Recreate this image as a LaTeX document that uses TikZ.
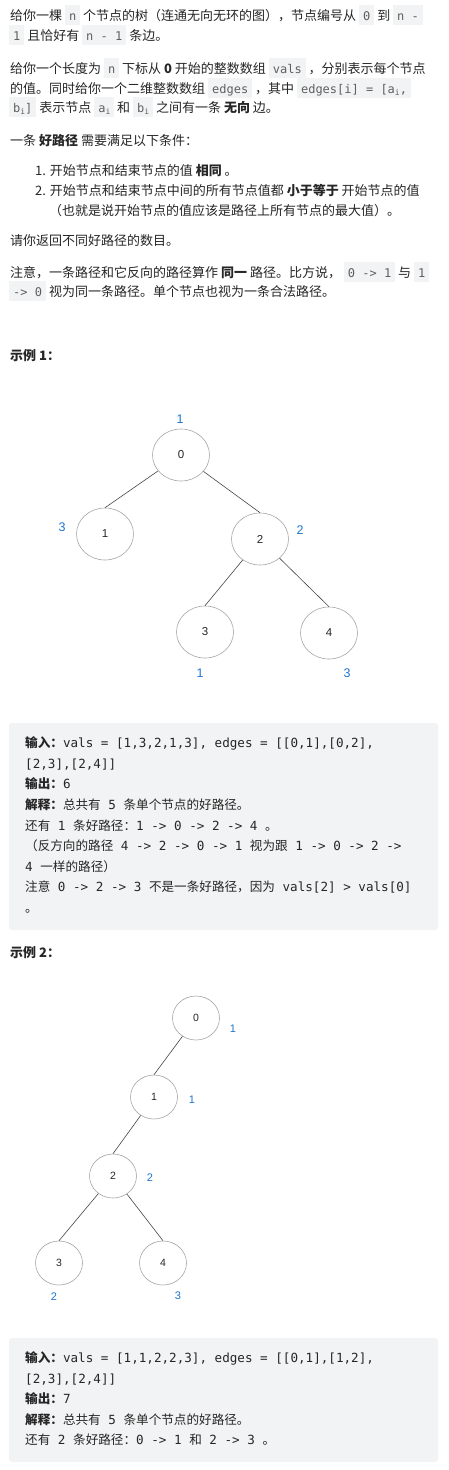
\documentclass[tikz,border=0pt]{standalone}
\usepackage{fontspec}
\setmainfont{Noto Sans CJK SC}
\newfontfamily\zhfont{Noto Sans CJK SC}
\newfontfamily\monofont{DejaVu Sans Mono}
\newfontfamily\arialfont{Liberation Sans}
\usepackage{xcolor}
\usetikzlibrary{shapes.geometric}

\definecolor{ink}{RGB}{38,38,38}
\definecolor{codebg}{RGB}{242,243,244}
\definecolor{codefg}{RGB}{95,95,95}
\definecolor{valblue}{RGB}{28,118,206}
\definecolor{ringgray}{RGB}{165,165,165}
\definecolor{edgegray}{RGB}{70,70,70}

% inline code with grey box, subscript index, cjk inside code lines
\newcommand{\code}[1]{{\fboxsep=0pt\colorbox{codebg}{\rule[-5pt]{0pt}{20pt}\hspace{4pt}{\monofont\fontsize{12}{12}\selectfont\color{codefg}#1}\hspace{4pt}}}}
\newcommand{\idx}[1]{\raisebox{-2.5pt}{\fontsize{8}{8}\selectfont #1}}
\newcommand{\zh}[1]{{\zhfont #1}}
\newcommand{\zhb}[1]{{\zhfont\bfseries #1}}

\begin{document}
\begin{tikzpicture}[x=1pt, y=-1pt,
  txt/.style={anchor=base west, inner sep=0, text=ink, font=\fontsize{13}{13}\selectfont},
  codeline/.style={anchor=base west, inner sep=0, text=ink, font=\monofont\fontsize{12.6}{12.6}\selectfont},
  vertex/.style={ellipse, draw=ringgray, line width=0.6pt, minimum width=57, minimum height=52, inner sep=0, text=ink, font=\arialfont\fontsize{11.5}{11.5}\selectfont},
  vertexsm/.style={vertex, minimum width=47, minimum height=44, font=\arialfont\fontsize{10.5}{10.5}\selectfont},
  val/.style={inner sep=0, text=valblue, font=\arialfont\fontsize{12.5}{12.5}\selectfont},
  valsm/.style={val, font=\arialfont\fontsize{11}{11}\selectfont},
  edge/.style={draw=edgegray, line width=0.6pt}]

\fill[white] (0,0) rectangle (449,1470);

% Problem statement
\node[txt] (l1) at (10,20) {给你一棵 \code{n} 个节点的树（连通无向无环的图），节点编号从 \code{0} 到 \code{n -}};
\node[txt] (l2) at (9,40) {\code{1} 且恰好有 \code{n - 1} 条边。};
\node[txt] (l3) at (10,73) {给你一个长度为 \code{n} 下标从 \textbf{0} 开始的整数数组 \code{vals} ，分别表示每个节点};
\node[txt] (l4) at (10,93) {的值。同时给你一个二维整数数组 \code{edges} ，其中 \code{edges[i] = [a\idx{i},}};
\node[txt] (l5) at (9,112) {\code{b\idx{i}]} 表示节点 \code{a\idx{i}} 和 \code{b\idx{i}} 之间有一条 \textbf{无向} 边。};
\node[txt] (l6) at (10,145) {一条 \textbf{好路径} 需要满足以下条件：};
\node[txt] (l7) at (35,175) {1. 开始节点和结束节点的值 \textbf{相同} 。};
\node[txt] (l8) at (35,195) {2. 开始节点和结束节点中间的所有节点值都 \textbf{小于等于} 开始节点的值};
\node[txt] (l9) at (49,215) {（也就是说开始节点的值应该是路径上所有节点的最大值）。};
\node[txt] (l10) at (10,245) {请你返回不同好路径的数目。};
\node[txt] (l11) at (10,277) {注意，一条路径和它反向的路径算作 \textbf{同一} 路径。比方说， \code{0 -> 1} 与 \code{1}};
\node[txt] (l12) at (9,296) {\code{-> 0} 视为同一条路径。单个节点也视为一条合法路径。};

% Example 1
\node[txt] (head1) at (10,360) {\textbf{示例 1：}};

\node[vertex] (t1n0) at (181,455) {0};
\node[vertex] (t1n1) at (105,534) {1};
\node[vertex] (t1n2) at (260,539) {2};
\node[vertex] (t1n3) at (205,632) {3};
\node[vertex] (t1n4) at (329,633) {4};

\draw[edge] (t1n0) -- (t1n1.north);
\draw[edge] (t1n0) -- (t1n2.north);
\draw[edge] (t1n2) -- (t1n3.north);
\draw[edge] (t1n2) -- (t1n4.north);

\node[val] (t1v0) at (180,419) {1};
\node[val] (t1v1) at (62,527) {3};
\node[val] (t1v2) at (300,530) {2};
\node[val] (t1v3) at (200,673) {1};
\node[val] (t1v4) at (347,673) {3};

\fill[codebg, rounded corners=3] (9,723) rectangle (438,930);
\foreach \t [count=\i] in {
  {\zhb{输入：}vals = [1,3,2,1,3], edges = [[0,1],[0,2],},
  {[2,3],[2,4]]},
  {\zhb{输出：}6},
  {\zhb{解释：}\zh{总共有} 5 \zh{条单个节点的好路径。}},
  {\zh{还有} 1 \zh{条好路径：}1 -> 0 -> 2 -> 4 \zh{。}},
  {\zh{（反方向的路径} 4 -> 2 -> 0 -> 1 \zh{视为跟} 1 -> 0 -> 2 ->},
  {4 \zh{一样的路径）}},
  {\zh{注意} 0 -> 2 -> 3 \zh{不是一条好路径，因为} vals[2] > vals[0]},
  {\zh{。}}}
{
\node[codeline] (ex1l\i) at (25,727+20.6*\i) {\t};
}

% Example 2
\node[txt] (head2) at (10,957) {\textbf{示例 2：}};

\node[vertexsm] (t2n0) at (196,1018) {0};
\node[vertexsm] (t2n1) at (154,1097) {1};
\node[vertexsm] (t2n2) at (113,1176) {2};
\node[vertexsm] (t2n3) at (59,1263) {3};
\node[vertexsm] (t2n4) at (163,1263) {4};

\draw[edge] (t2n0) -- (t2n1.north);
\draw[edge] (t2n1) -- (t2n2.north);
\draw[edge] (t2n2) -- (t2n3.north);
\draw[edge] (t2n2) -- (t2n4.north);

\node[valsm] (t2v0) at (233,1029) {1};
\node[valsm] (t2v1) at (192,1100) {1};
\node[valsm] (t2v2) at (150,1178) {2};
\node[valsm] (t2v3) at (54,1297) {2};
\node[valsm] (t2v4) at (178,1296) {3};

\fill[codebg, rounded corners=3] (9,1338) rectangle (438,1462);
\foreach \t [count=\i] in {
  {\zhb{输入：}vals = [1,1,2,2,3], edges = [[0,1],[1,2],},
  {[2,3],[2,4]]},
  {\zhb{输出：}7},
  {\zhb{解释：}\zh{总共有} 5 \zh{条单个节点的好路径。}},
  {\zh{还有} 2 \zh{条好路径：}0 -> 1 \zh{和} 2 -> 3 \zh{。}}}
{
\node[codeline] (ex2l\i) at (25,1341.9+20.6*\i) {\t};
}

\end{tikzpicture}
\end{document}
